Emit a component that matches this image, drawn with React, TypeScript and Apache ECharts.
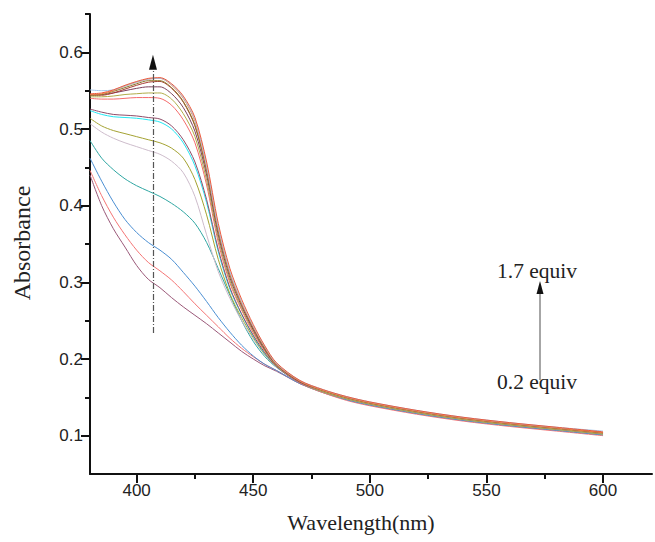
import React, { useEffect, useRef } from "react";
import * as echarts from "echarts";

// Wavelength grid (nm)
const wavelengths = [380, 385, 390, 395, 400, 405, 410, 415, 420, 425, 430, 435, 440, 445, 450, 455, 460, 470, 480, 490, 500, 520, 540, 560, 580, 600];

// Absorbance spectra, low -> high equivalents
const eq02 = [0.440, 0.400, 0.370, 0.346, 0.322, 0.304, 0.293, 0.280, 0.268, 0.257, 0.246, 0.234, 0.222, 0.210, 0.200, 0.191, 0.184, 0.168, 0.156, 0.147, 0.140, 0.129, 0.120, 0.113, 0.107, 0.101];
const eq03 = [0.446, 0.413, 0.385, 0.362, 0.342, 0.326, 0.315, 0.303, 0.288, 0.272, 0.257, 0.242, 0.227, 0.214, 0.203, 0.193, 0.185, 0.168, 0.156, 0.146, 0.139, 0.128, 0.119, 0.112, 0.106, 0.100];
const eq04 = [0.462, 0.432, 0.405, 0.382, 0.365, 0.352, 0.342, 0.330, 0.313, 0.295, 0.275, 0.254, 0.235, 0.218, 0.204, 0.193, 0.185, 0.168, 0.157, 0.147, 0.140, 0.129, 0.120, 0.113, 0.107, 0.101];
const eq05 = [0.485, 0.462, 0.447, 0.435, 0.426, 0.419, 0.412, 0.403, 0.392, 0.377, 0.352, 0.318, 0.283, 0.250, 0.223, 0.203, 0.189, 0.169, 0.157, 0.148, 0.141, 0.130, 0.121, 0.114, 0.108, 0.102];
const eq06 = [0.507, 0.496, 0.488, 0.482, 0.477, 0.472, 0.467, 0.458, 0.443, 0.412, 0.362, 0.314, 0.279, 0.250, 0.226, 0.205, 0.189, 0.169, 0.157, 0.148, 0.141, 0.130, 0.121, 0.114, 0.108, 0.102];
const eq07 = [0.514, 0.504, 0.498, 0.494, 0.490, 0.486, 0.482, 0.475, 0.462, 0.434, 0.388, 0.330, 0.285, 0.254, 0.228, 0.206, 0.190, 0.169, 0.157, 0.148, 0.141, 0.130, 0.121, 0.114, 0.108, 0.102];
const eq08 = [0.524, 0.519, 0.516, 0.515, 0.514, 0.512, 0.509, 0.500, 0.482, 0.452, 0.404, 0.340, 0.291, 0.258, 0.230, 0.207, 0.190, 0.169, 0.158, 0.149, 0.142, 0.131, 0.122, 0.115, 0.109, 0.103];
const eq09 = [0.526, 0.522, 0.519, 0.518, 0.517, 0.515, 0.513, 0.504, 0.486, 0.457, 0.408, 0.343, 0.293, 0.259, 0.231, 0.208, 0.190, 0.169, 0.158, 0.149, 0.142, 0.131, 0.122, 0.115, 0.109, 0.103];
const eq10 = [0.540, 0.539, 0.539, 0.540, 0.541, 0.541, 0.540, 0.531, 0.512, 0.482, 0.427, 0.352, 0.299, 0.264, 0.234, 0.210, 0.191, 0.169, 0.158, 0.149, 0.142, 0.131, 0.122, 0.115, 0.109, 0.103];
const eq11 = [0.542, 0.542, 0.543, 0.545, 0.546, 0.547, 0.547, 0.539, 0.520, 0.490, 0.433, 0.357, 0.302, 0.266, 0.236, 0.211, 0.191, 0.170, 0.158, 0.149, 0.142, 0.131, 0.122, 0.115, 0.109, 0.103];
const eq12 = [0.545, 0.545, 0.547, 0.550, 0.553, 0.555, 0.555, 0.546, 0.528, 0.497, 0.440, 0.362, 0.306, 0.269, 0.238, 0.212, 0.192, 0.170, 0.159, 0.150, 0.143, 0.132, 0.123, 0.116, 0.110, 0.104];
const eq13 = [0.544, 0.544, 0.547, 0.552, 0.557, 0.561, 0.562, 0.553, 0.535, 0.504, 0.446, 0.368, 0.311, 0.272, 0.240, 0.214, 0.193, 0.171, 0.159, 0.150, 0.143, 0.132, 0.123, 0.116, 0.110, 0.104];
const eq14 = [0.544, 0.545, 0.549, 0.554, 0.559, 0.563, 0.563, 0.554, 0.536, 0.505, 0.446, 0.367, 0.310, 0.272, 0.241, 0.214, 0.193, 0.171, 0.159, 0.150, 0.143, 0.132, 0.123, 0.116, 0.110, 0.104];
const eq15 = [0.545, 0.546, 0.550, 0.556, 0.561, 0.565, 0.566, 0.557, 0.540, 0.510, 0.450, 0.370, 0.312, 0.273, 0.242, 0.215, 0.193, 0.171, 0.159, 0.150, 0.143, 0.132, 0.123, 0.116, 0.110, 0.104];
const eq16 = [0.551, 0.550, 0.551, 0.556, 0.561, 0.565, 0.566, 0.558, 0.541, 0.512, 0.452, 0.372, 0.314, 0.275, 0.243, 0.216, 0.194, 0.172, 0.160, 0.151, 0.144, 0.133, 0.124, 0.117, 0.111, 0.106];
const eq17 = [0.546, 0.547, 0.551, 0.557, 0.562, 0.566, 0.567, 0.559, 0.543, 0.515, 0.457, 0.377, 0.318, 0.278, 0.245, 0.217, 0.195, 0.172, 0.160, 0.151, 0.144, 0.133, 0.124, 0.117, 0.111, 0.105];

const spectra = [eq02, eq03, eq04, eq05, eq06, eq07, eq08, eq09, eq10, eq11, eq12, eq13, eq14, eq15, eq16, eq17];
const seriesNames = ["0.2", "0.3", "0.4", "0.5", "0.6", "0.7", "0.8", "0.9", "1.0", "1.1", "1.2", "1.3", "1.4", "1.5", "1.6", "1.7"];
const seriesColors = ["#9a5878", "#f47474", "#4a8ed2", "#2fa6a2", "#cdbccb", "#a4a232", "#22e6f2", "#8f4c68", "#f46a6a", "#b0ac48", "#7b3f5a", "#a83c34", "#8c7a2a", "#f5844c", "#a3c6ea", "#ec5a3c"];

const xMajorTicks = [400, 450, 500, 550, 600];
const xMinorTicks = [425, 475, 525, 575];
const yMajorTicks = [0.1, 0.2, 0.3, 0.4, 0.5, 0.6];
const yMinorTicks = [0.15, 0.25, 0.35, 0.45, 0.55, 0.65];

const arrowWavelength = 407;
const arrowFrom = 0.234;
const arrowTo = 0.585;

export default function App() {
  const ref = useRef<HTMLDivElement>(null);
  useEffect(() => {
    if (!ref.current) return;
    const chart = echarts.init(ref.current, null, { renderer: "svg" });
    const axisColor = "#111";
    const labelFont = { fontFamily: "Liberation Sans", fontSize: 17, color: "#222" };
    const serif = "Liberation Serif";
    const series: any[] = spectra.map((arr, i) => ({
      name: seriesNames[i],
      type: "line",
      xAxisIndex: 0,
      yAxisIndex: 0,
      data: wavelengths.map((w, j) => [w, arr[j]]),
      showSymbol: false,
      symbol: "none",
      smooth: 0.3,
      lineStyle: { width: 1, color: seriesColors[i] },
      itemStyle: { color: seriesColors[i] },
      z: 2,
    }));
    series[0].markLine = {
      silent: true,
      symbol: ["none", "none"],
      label: { show: false },
      lineStyle: { color: "#555", width: 1.2, type: [6, 2, 1, 2] },
      data: [[{ coord: [arrowWavelength, arrowFrom] }, { coord: [arrowWavelength, arrowTo] }]],
      z: 5,
    };
    series[0].markPoint = {
      silent: true,
      label: { show: false },
      data: [{ coord: [arrowWavelength, 0.587], symbol: "triangle", symbolSize: [8, 15], itemStyle: { color: "#111" } }],
    };
    const option: any = {
      animation: false,
      backgroundColor: "#fff",
      grid: { left: 90, right: 3, top: 14, bottom: 68 },
      xAxis: [
        {
          type: "value", min: 380, max: 621,
          axisLine: { lineStyle: { color: axisColor, width: 2 } },
          axisTick: { customValues: xMajorTicks, length: 9, lineStyle: { color: axisColor, width: 2 } },
          axisLabel: { customValues: xMajorTicks, margin: 8, ...labelFont },
          splitLine: { show: false },
        },
        {
          type: "value", min: 380, max: 621, position: "bottom",
          axisLine: { show: false },
          axisTick: { customValues: xMinorTicks, length: 5, lineStyle: { color: axisColor, width: 2 } },
          axisLabel: { show: false },
          splitLine: { show: false },
        },
      ],
      yAxis: [
        {
          type: "value", min: 0.05, max: 0.65,
          axisLine: { show: true, lineStyle: { color: axisColor, width: 2 } },
          axisTick: { show: true, customValues: yMajorTicks, length: 9, lineStyle: { color: axisColor, width: 2 } },
          axisLabel: { customValues: yMajorTicks, margin: 7, formatter: (v: number) => v.toFixed(1), ...labelFont },
          splitLine: { show: false },
        },
        {
          type: "value", min: 0.05, max: 0.65, position: "left",
          axisLine: { show: false },
          axisTick: { show: true, customValues: yMinorTicks, length: 5, lineStyle: { color: axisColor, width: 2 } },
          axisLabel: { show: false },
          splitLine: { show: false },
        },
      ],
      series,
      graphic: [
        { type: "text", x: 361, y: 522, style: { text: "Wavelength(nm)", font: `22px "${serif}"`, fill: "#222", textAlign: "center", textVerticalAlign: "middle" } },
        { type: "text", x: 22, y: 243, rotation: Math.PI / 2, style: { text: "Absorbance", font: `24px "${serif}"`, fill: "#222", textAlign: "center", textVerticalAlign: "middle" } },
        { type: "text", x: 497, y: 271, style: { text: "1.7 equiv", font: `21.5px "${serif}"`, fill: "#222", textAlign: "left", textVerticalAlign: "middle" } },
        { type: "text", x: 497, y: 382, style: { text: "0.2 equiv", font: `21.5px "${serif}"`, fill: "#222", textAlign: "left", textVerticalAlign: "middle" } },
        { type: "line", shape: { x1: 540, y1: 380, x2: 540, y2: 292 }, style: { stroke: "#888", lineWidth: 1.5 } },
        { type: "polygon", shape: { points: [[540, 281], [536.5, 294], [543.5, 294]] }, style: { fill: "#111" } },
      ],
    };
    chart.setOption(option);
    return () => chart.dispose();
  }, []);
  return <div ref={ref} style={{ position: "fixed", left: 0, top: 0, width: 655, height: 542, background: "#fff" }} />;
}
